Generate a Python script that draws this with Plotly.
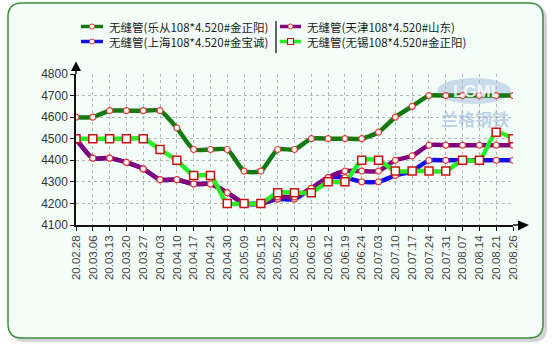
import plotly.graph_objects as go

W, H = 554, 347
L, R, T, B = 76, 513, 74, 225  # plot area in px

dates = ["20.02.28", "20.03.06", "20.03.13", "20.03.20", "20.03.27", "20.04.03",
         "20.04.10", "20.04.17", "20.04.24", "20.04.30", "20.05.09", "20.05.15",
         "20.05.22", "20.05.29", "20.06.05", "20.06.12", "20.06.19", "20.06.24",
         "20.07.03", "20.07.10", "20.07.17", "20.07.24", "20.07.31", "20.08.07",
         "20.08.14", "20.08.21", "20.08.26"]

lecong = [4600, 4600, 4630, 4630, 4630, 4630, 4550, 4450, 4450, 4450, 4350, 4350,
          4450, 4450, 4500, 4500, 4500, 4500, 4530, 4600, 4650, 4700, 4700, 4700,
          4700, 4700, 4700]
tianjin = [4500, 4410, 4410, 4390, 4360, 4310, 4310, 4290, 4290, 4250, 4200, 4200,
           4230, 4230, 4270, 4320, 4350, 4350, 4350, 4400, 4420, 4470, 4470, 4470,
           4470, 4470, 4470]
shanghai = [4500, 4410, 4410, 4390, 4360, 4310, 4310, 4290, 4290, 4250, 4200, 4200,
            4220, 4220, 4270, 4320, 4320, 4300, 4300, 4330, 4350, 4400, 4400, 4400,
            4400, 4400, 4400]
wuxi = [4500, 4500, 4500, 4500, 4500, 4450, 4400, 4330, 4330, 4200, 4200, 4200,
        4250, 4250, 4250, 4300, 4300, 4400, 4400, 4350, 4350, 4350, 4350, 4400,
        4400, 4530, 4500]

names = ["无缝管(乐从108*4.520#金正阳)", "无缝管(天津108*4.520#山东)",
         "无缝管(上海108*4.520#金宝诚)", "无缝管(无锡108*4.520#金正阳)"]
colors = {"lecong": "#127a12", "tianjin": "#800080", "shanghai": "#1010ee", "wuxi": "#27ee27"}

yticks = [4100, 4200, 4300, 4400, 4500, 4600, 4700, 4800]


def px(x):
    return (x - L) / (R - L)


def py(y):
    return (B - y) / (B - T)


fig = go.Figure()

circ = dict(symbol="circle", size=6, color="white", line=dict(color="#e23a34", width=1.2))
sq = dict(symbol="square", size=8, color="white", line=dict(color="#cc1010", width=1.5))

def add(y, name, col, marker):
    fig.add_trace(go.Scatter(x=dates, y=y, name=name, mode="lines+markers",
                             line=dict(color=col, width=4.5, shape="spline", smoothing=0.6),
                             marker=marker, showlegend=False))

add(lecong, names[0], colors["lecong"], circ)
add(shanghai, names[2], colors["shanghai"], circ)
add(tianjin, names[1], colors["tianjin"], circ)
add(wuxi, names[3], colors["wuxi"], sq)

shapes = []

def rrect(x0, y0, x1, y1, r):
    X0, X1 = px(x0), px(x1)
    Y0, Y1 = py(y0), py(y1)
    rx = r / (R - L)
    ry = r / (B - T)
    return (f"M {X0+rx},{Y0} L {X1-rx},{Y0} Q {X1},{Y0} {X1},{Y0-ry} "
            f"L {X1},{Y1+ry} Q {X1},{Y1} {X1-rx},{Y1} L {X0+rx},{Y1} "
            f"Q {X0},{Y1} {X0},{Y1+ry} L {X0},{Y0-ry} Q {X0},{Y0} {X0+rx},{Y0} Z")

# shadow + frame
shapes.append(dict(type="path", xref="paper", yref="paper", layer="below",
                   path=rrect(11, 6, 547, 342, 14), fillcolor="#d4d4d4", line=dict(width=0)))
shapes.append(dict(type="path", xref="paper", yref="paper", layer="below",
                   path=rrect(8, 3, 543, 338, 14), fillcolor="#f3fff8",
                   line=dict(color="#3c8c3c", width=1.5)))

# logo ellipse
shapes.append(dict(type="circle", xref="paper", yref="paper", layer="below",
                   x0=px(437), x1=px(511), y0=py(78), y1=py(104),
                   fillcolor="rgba(150,175,220,0.45)", line=dict(width=0)))

# axis arrows
shapes.append(dict(type="line", xref="paper", yref="paper", x0=px(R), x1=px(519),
                   y0=py(B), y1=py(B), line=dict(color="#111", width=1.5)))
shapes.append(dict(type="path", xref="paper", yref="paper",
                   path=f"M {px(518)},{py(220.5)} L {px(529)},{py(225)} L {px(518)},{py(230.5)} Z",
                   fillcolor="#000", line=dict(width=0)))
shapes.append(dict(type="line", xref="paper", yref="paper", x0=px(L), x1=px(L),
                   y0=py(T), y1=py(70), line=dict(color="#111", width=1.5)))
shapes.append(dict(type="path", xref="paper", yref="paper",
                   path=f"M {px(71)},{py(71)} L {px(76)},{py(61.5)} L {px(81)},{py(71)} Z",
                   fillcolor="#000", line=dict(width=0)))

# legend symbols
leg = [(81, 103, 26.5, colors["lecong"], "c"),
       (280, 301, 26.5, colors["tianjin"], "c"),
       (81, 103, 41.5, colors["shanghai"], "c"),
       (280, 301, 41.5, colors["wuxi"], "s")]
annotations = []
for x0, x1, yy, col, mk in leg:
    shapes.append(dict(type="line", xref="paper", yref="paper", x0=px(x0), x1=px(x1),
                       y0=py(yy), y1=py(yy), line=dict(color=col, width=3.5)))
    cx = (x0 + x1) / 2
    if mk == "c":
        shapes.append(dict(type="circle", xref="paper", yref="paper",
                           x0=px(cx - 2.5), x1=px(cx + 2.5), y0=py(yy - 2.5), y1=py(yy + 2.5),
                           fillcolor="white", line=dict(color="#e23a34", width=1)))
    else:
        shapes.append(dict(type="rect", xref="paper", yref="paper",
                           x0=px(cx - 3), x1=px(cx + 3), y0=py(yy - 3), y1=py(yy + 3),
                           fillcolor="white", line=dict(color="#cc1010", width=1.2)))

# legend texts: one block per column
for xt, txt in [(107, names[0] + "<br>" + names[2]), (305, names[1] + "<br>" + names[3])]:
    annotations.append(dict(xref="paper", yref="paper", x=px(xt), y=py(34),
                            xanchor="left", yanchor="middle", align="left", showarrow=False,
                            text=txt,
                            font=dict(family="Noto Sans CJK SC", size=11.5, color="#1a1a1a")))

shapes.append(dict(type="line", xref="paper", yref="paper", x0=px(276), x1=px(276),
                   y0=py(21), y1=py(53), line=dict(color="#333", width=1.5)))

annotations.append(dict(xref="paper", yref="paper", x=px(474), y=py(91), showarrow=False,
                        text="<b>LGMI</b>", xanchor="center", yanchor="middle",
                        font=dict(family="Arial", size=17, color="rgba(255,255,255,0.85)")))
annotations.append(dict(xref="paper", yref="paper", x=px(475), y=py(118), showarrow=False,
                        text="<b>兰格钢铁</b>", xanchor="center", yanchor="middle",
                        font=dict(family="Noto Sans CJK SC", size=17, color="rgba(140,165,215,0.5)")))

fig.update_layout(
    width=W, height=H,
    margin=dict(l=L, r=W - R, t=T, b=H - B, pad=0),
    paper_bgcolor="white", plot_bgcolor="rgba(0,0,0,0)",
    showlegend=False, shapes=shapes, annotations=annotations,
    xaxis=dict(type="category", range=[0, len(dates) - 1], tickangle=-90,
               showgrid=True, gridcolor="#b4b4b4", griddash="dot", gridwidth=1,
               showline=True, linecolor="#111", linewidth=1.5,
               ticks="outside", ticklen=4, tickcolor="#111",
               tickfont=dict(family="Arial", size=11.5, color="#444"), zeroline=False),
    yaxis=dict(range=[4100, 4800], tickvals=yticks, ticktext=[str(v) for v in yticks],
               showgrid=True, gridcolor="#b4b4b4", griddash="dot", gridwidth=1,
               showline=True, linecolor="#111", linewidth=1.5,
               ticks="outside", ticklen=4, tickcolor="#111",
               tickfont=dict(family="Arial", size=12, color="#333"), zeroline=False),
)

fig.write_html("out.html")
